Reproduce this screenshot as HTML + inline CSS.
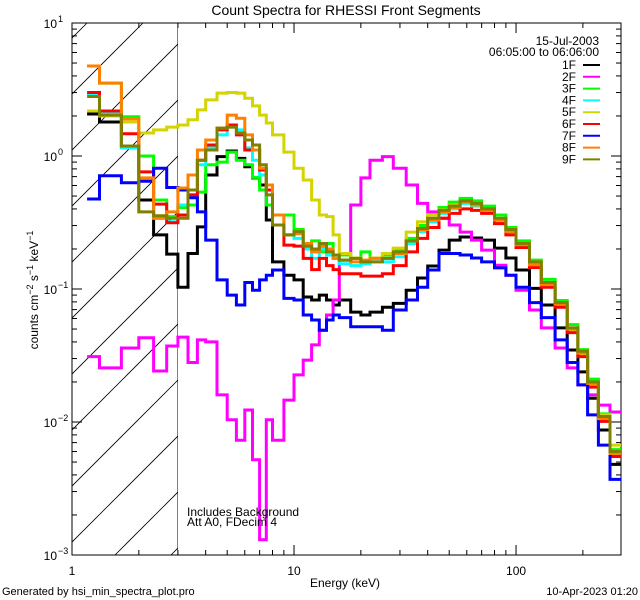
<!DOCTYPE html>
<html><head><meta charset="utf-8">
<style>
html,body{margin:0;padding:0;background:#fff;}
svg{display:block;font-family:"Liberation Sans",sans-serif;}
</style></head>
<body>
<svg id="chart" width="640" height="600" viewBox="0 0 640 600" xmlns="http://www.w3.org/2000/svg">
<rect width="640" height="600" fill="#fff"/>
<text x="346" y="15" font-size="14" text-anchor="middle">Count Spectra for RHESSI Front Segments</text>
<g id="hatch"></g>
<g id="axes"></g>
<g id="series"></g>
<g id="legend"></g>
<text transform="translate(38,290) rotate(-90)" font-size="12" text-anchor="middle">counts cm<tspan dy="-5" font-size="9">−2</tspan><tspan dy="5"> s</tspan><tspan dy="-5" font-size="9">−1</tspan><tspan dy="5"> keV</tspan><tspan dy="-5" font-size="9">−1</tspan></text>
<text x="345" y="587" font-size="12" text-anchor="middle">Energy (keV)</text>
<text x="2" y="595" font-size="11">Generated by hsi_min_spectra_plot.pro</text>
<text x="638" y="595" font-size="11" text-anchor="end">10-Apr-2023 01:20</text>
<text x="187" y="516" font-size="12">Includes Background</text>
<text x="187" y="526" font-size="12">Att A0, FDecim 4</text>
</svg>
<script>
const edges=[1.17,1.33,1.67,2,2.33,2.67,3,3.33,3.67,4,4.5,5,5.5,6,6.5,7,7.5,8,9,10,11,12,13,14,15,16,18,20,22,25,28,32,36,40,45,50,56,63,70,80,90,100,115,130,150,170,190,210,235,265,297];
const seriesNames=["1F","2F","3F","4F","5F","6F","7F","8F","9F"];
const seriesColors=["#000000","#ff00ff","#00ff00","#00ffff","#d4d400","#ff0000","#0000ff","#ff8000","#808000"];
const s1F=[2.07,1.8,1.19,0.467,0.255,0.183,0.103,0.185,0.293,0.72,0.99,1.09,0.96,0.83,0.685,0.605,0.33,0.16,0.127,0.117,0.087,0.0826,0.09,0.0826,0.0758,0.0826,0.067,0.0638,0.067,0.073,0.078,0.098,0.121,0.149,0.196,0.233,0.246,0.242,0.233,0.203,0.171,0.139,0.101,0.0758,0.051,0.0348,0.0238,0.0151,0.0087,0.0048];
const s2F=[0.031,0.0255,0.036,0.043,0.0242,0.0373,0.0435,0.028,0.0414,0.04,0.016,0.0104,0.0073,0.0123,0.0052,0.0013,0.0104,0.0073,0.0146,0.0226,0.0292,0.038,0.049,0.0638,0.0826,0.165,0.428,0.685,0.93,0.99,0.81,0.605,0.44,0.38,0.34,0.303,0.268,0.233,0.196,0.151,0.127,0.098,0.0695,0.051,0.036,0.0255,0.019,0.016,0.0134,0.0119];
const s3F=[4.75,3.53,1.97,1.0,0.467,0.35,0.41,0.428,0.535,0.86,0.9,1.07,0.93,0.86,0.69,0.555,0.428,0.303,0.36,0.28,0.2,0.23,0.19,0.22,0.17,0.18,0.17,0.19,0.17,0.18,0.2,0.24,0.3,0.36,0.41,0.45,0.48,0.46,0.42,0.36,0.29,0.23,0.165,0.118,0.082,0.054,0.035,0.021,0.0115,0.0062];
const s4F=[2.9,2.1,1.15,0.66,0.34,0.32,0.428,0.51,0.86,1.15,1.44,1.65,1.57,1.15,0.93,0.72,0.51,0.303,0.255,0.24,0.2,0.17,0.2,0.18,0.17,0.155,0.15,0.155,0.16,0.16,0.175,0.22,0.27,0.32,0.37,0.4,0.44,0.42,0.38,0.32,0.26,0.21,0.148,0.104,0.074,0.048,0.031,0.0185,0.0102,0.0056];
const s5F=[2.18,2.0,1.8,1.49,1.57,1.65,1.71,1.87,2.22,2.64,2.97,3.0,2.97,2.72,2.38,2.03,1.77,1.44,1.07,0.81,0.66,0.467,0.36,0.35,0.255,0.185,0.171,0.165,0.171,0.185,0.203,0.268,0.32,0.36,0.393,0.428,0.45,0.428,0.38,0.32,0.268,0.214,0.16,0.112,0.0758,0.049,0.032,0.019,0.0113,0.0067];
const s6F=[3.0,2.18,1.47,0.76,0.435,0.315,0.36,0.51,0.93,1.21,1.57,1.71,1.44,1.11,1.11,0.785,0.555,0.303,0.214,0.21,0.17,0.14,0.17,0.15,0.14,0.13,0.13,0.125,0.125,0.13,0.15,0.19,0.24,0.29,0.34,0.37,0.4,0.39,0.37,0.31,0.255,0.205,0.145,0.103,0.073,0.047,0.031,0.0183,0.0101,0.0055];
const s7F=[0.475,0.71,0.63,0.645,0.81,0.58,0.555,0.485,0.38,0.233,0.117,0.09,0.0758,0.112,0.098,0.117,0.127,0.139,0.085,0.0826,0.0638,0.0585,0.049,0.0585,0.0638,0.061,0.052,0.052,0.052,0.049,0.0695,0.0826,0.103,0.139,0.185,0.185,0.18,0.171,0.16,0.144,0.127,0.103,0.079,0.061,0.0414,0.028,0.019,0.0113,0.0067,0.0037];
const s8F=[4.75,3.53,1.9,0.685,0.34,0.38,0.575,0.72,1.11,1.32,1.62,2.03,1.92,1.44,1.11,0.81,0.605,0.36,0.255,0.26,0.22,0.19,0.21,0.2,0.17,0.165,0.16,0.165,0.17,0.17,0.185,0.23,0.28,0.33,0.38,0.41,0.45,0.43,0.39,0.33,0.27,0.215,0.152,0.108,0.077,0.05,0.033,0.0195,0.0106,0.0058];
const s9F=[2.8,2.03,1.19,0.38,0.355,0.34,0.34,0.555,0.93,1.11,1.62,1.65,1.49,1.32,1.21,0.86,0.51,0.303,0.255,0.27,0.21,0.2,0.22,0.19,0.18,0.165,0.17,0.16,0.16,0.17,0.19,0.23,0.285,0.34,0.39,0.42,0.46,0.44,0.4,0.34,0.28,0.22,0.16,0.112,0.079,0.051,0.034,0.02,0.011,0.006];
const allSeries=[s1F,s2F,s3F,s4F,s5F,s6F,s7F,s8F,s9F];
const xTickLabels=["1","10","100"];
const yTickExps=["1","0","−1","−2","−3"];

const NS="http://www.w3.org/2000/svg";
const L=72,R=621,T=23,B=555;
const xMin=1,xMax=297,yMinLog=-3,yMaxLog=1;
function xs(e){return L+(Math.log10(e)-Math.log10(xMin))/(Math.log10(xMax)-Math.log10(xMin))*(R-L);}
function ys(v){return B-(Math.log10(v)-yMinLog)/(yMaxLog-yMinLog)*(B-T);}
function mk(tag,attrs,parent){const el=document.createElementNS(NS,tag);for(const k in attrs)el.setAttribute(k,attrs[k]);parent.appendChild(el);return el;}

const svg=document.getElementById('chart');
const defs=mk('defs',{},svg);
const cp=mk('clipPath',{id:'plotclip'},defs);
mk('rect',{x:L,y:T,width:R-L,height:B-T},cp);
const hc=mk('clipPath',{id:'hatchclip'},defs);
mk('rect',{x:L,y:T,width:xs(3)-L,height:B-T},hc);

// hatch
const hatch=document.getElementById('hatch');
hatch.setAttribute('clip-path','url(#hatchclip)');
for(let x0=L+27-600;x0<R;x0+=56){
  const ln=mk('line',{x1:x0,y1:B,x2:x0+(B-T),y2:T,stroke:'#000','stroke-width':0.8},hatch);
  
  
}
const vl=mk('line',{x1:xs(3),y1:T,x2:xs(3),y2:B,stroke:'#000','stroke-width':1},hatch);



// axes
const axes=document.getElementById('axes');
const box=mk('rect',{x:L,y:T,width:R-L,height:B-T,fill:'none',stroke:'#000','stroke-width':1},axes);


for(let d=0;d<3;d++){
  for(let m=1;m<10;m++){
    const e=Math.pow(10,d)*m; if(e>xMax)break;
    const x=xs(e), len=m===1?10:5;
    mk('line',{x1:x,y1:B,x2:x,y2:B-len,stroke:'#000','stroke-width':1},axes);
    mk('line',{x1:x,y1:T,x2:x,y2:T+len,stroke:'#000','stroke-width':1},axes);
  }
}
xTickLabels.forEach(function(t){
  const tx=mk('text',{x:xs(parseFloat(t)),y:575,'font-size':12,'text-anchor':'middle'},axes);
  tx.textContent=t;
  
  
});
for(let d=-3;d<=1;d++){
  for(let m=1;m<10;m++){
    if(d===1&&m>1)break;
    const y=ys(m*Math.pow(10,d)), len=m===1?10:5;
    mk('line',{x1:L,y1:y,x2:L+len,y2:y,stroke:'#000','stroke-width':1},axes);
    mk('line',{x1:R,y1:y,x2:R-len,y2:y,stroke:'#000','stroke-width':1},axes);
  }
}
yTickExps.forEach(function(ex,i){
  const y=ys(Math.pow(10,1-i));
  const tx=mk('text',{x:57,y:y+5,'font-size':12,'text-anchor':'end'},axes);
  tx.textContent='10';
  
  
  const sp=mk('text',{x:58,y:y-1,'font-size':9},axes);
  sp.textContent=ex;
  
  
});

// series
const sg=document.getElementById('series');
sg.setAttribute('clip-path','url(#plotclip)');
allSeries.forEach(function(vals,si){
  let d='';
  for(let i=0;i<vals.length;i++){
    const x1=xs(edges[i]),x2=xs(edges[i+1]),y=ys(vals[i]);
    d+=(i===0?'M':'L')+x1.toFixed(1)+','+y.toFixed(1)+'L'+x2.toFixed(1)+','+y.toFixed(1);
  }
  const p=mk('path',{d:d,fill:'none',stroke:seriesColors[si],'stroke-width':3,'stroke-linejoin':'miter'},sg);
  
  
});

// legend
const lg=document.getElementById('legend');
const d1=mk('text',{x:599,y:45,'font-size':12,'text-anchor':'end'},lg);
d1.textContent='15-Jul-2003';


const d2=mk('text',{x:599,y:56,'font-size':12,'text-anchor':'end'},lg);
d2.textContent='06:05:00 to 06:06:00';


seriesNames.forEach(function(n,i){
  const y=65+i*11.8;
  const t=mk('text',{x:576,y:y+4,'font-size':12,'text-anchor':'end'},lg);
  t.textContent=n;
  
  
  const l=mk('line',{x1:583,y1:y,x2:600,y2:y,stroke:seriesColors[i],'stroke-width':2},lg);
  
  
});
</script>
</body></html>
